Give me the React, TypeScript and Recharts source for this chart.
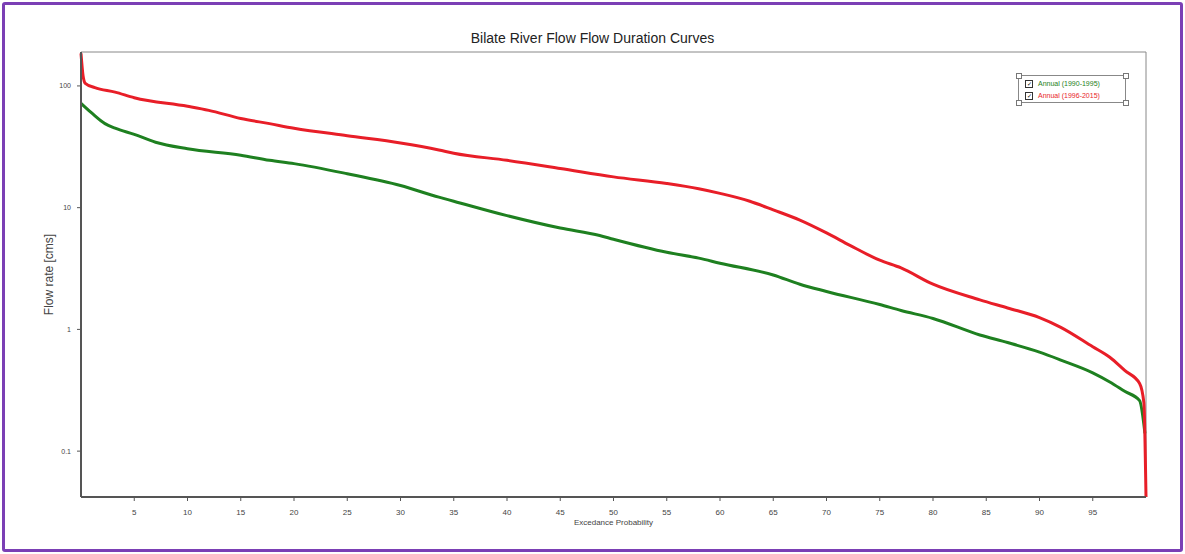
import React from "react";
import { LineChart, Line, XAxis, YAxis, ReferenceArea } from "recharts";

const TITLE = "Bilate River Flow Flow Duration Curves";
const X_LABEL = "Excedance Probability";
const Y_LABEL = "Flow rate [cms]";

const xTicks = [5, 10, 15, 20, 25, 30, 35, 40, 45, 50, 55, 60, 65, 70, 75, 80, 85, 90, 95];
const xMinorTicks = Array.from({ length: 99 }, (_, i) => i + 1);
const yTicks = [0.1, 1, 10, 100];

const seriesNames = ["Annual (1990-1995)", "Annual (1996-2015)"];

const greenProb = [0, 1, 2.25, 3.2, 5, 7, 10, 15, 17.7, 20, 25, 30, 33.6, 35, 40, 45, 48.7, 50, 55, 58, 60, 65, 67.5, 70, 75, 77, 80, 84.4, 87, 90, 92, 95, 96.6, 98, 99.4, 99.9];
const greenFlow = [72, 60, 49, 45, 40, 34.5, 30.5, 27, 24.5, 23, 19, 15.2, 12.2, 11.3, 8.6, 6.8, 5.9, 5.5, 4.3, 3.85, 3.5, 2.8, 2.35, 2.05, 1.6, 1.43, 1.23, 0.9, 0.78, 0.65, 0.56, 0.44, 0.37, 0.31, 0.26, 0.14];

const redProb = [0, 0.2, 0.4, 1.3, 3.2, 5, 10, 12, 15, 17.7, 20, 25, 30, 33.6, 35, 40, 45, 50, 55, 58, 60, 62.8, 65, 67.5, 70, 72.2, 75, 77, 80, 84.4, 87, 90, 92, 95, 96.6, 98, 99.4, 99.8, 100];
const redFlow = [185, 120, 105, 97, 89, 80, 68, 63, 54, 49, 45, 39, 34, 29.8, 28, 24.5, 21, 17.9, 15.8, 14.3, 13.1, 11.3, 9.6, 7.9, 6.2, 4.9, 3.7, 3.2, 2.35, 1.75, 1.5, 1.25, 1.04, 0.72, 0.59, 0.46, 0.36, 0.25, 0.042];

const greenData = greenProb.map((p, i) => ({ p, q: greenFlow[i] }));
const redData = redProb.map((p, i) => ({ p, q: redFlow[i] }));

const GREEN = "#1e8020";
const RED = "#e81e28";
const FONT = "Arial, 'Liberation Sans', sans-serif";

const LegendBox = () => (
  <div
    style={{
      position: "absolute",
      left: 1018,
      top: 75,
      width: 108,
      height: 28,
      border: "1px solid #888",
      background: "#fff",
      fontFamily: FONT,
      fontSize: 7,
      lineHeight: "12px",
      padding: "2px 0 0 6px",
      boxSizing: "border-box",
    }}
  >
    {[0, 1].map((i) => (
      <div key={i} style={{ display: "flex", alignItems: "center", color: i === 0 ? GREEN : RED }}>
        <span
          style={{
            display: "inline-block",
            width: 6,
            height: 6,
            border: "1px solid #333",
            marginRight: 5,
            fontSize: 6,
            lineHeight: "6px",
            color: "#000",
            textAlign: "center",
          }}
        >
          ✓
        </span>
        {seriesNames[i]}
      </div>
    ))}
    {[
      [-3, -3],
      [104, -3],
      [-3, 24],
      [104, 24],
    ].map(([l, t], k) => (
      <span
        key={k}
        style={{
          position: "absolute",
          left: l,
          top: t,
          width: 4,
          height: 4,
          border: "1px solid #777",
          background: "#fff",
        }}
      />
    ))}
  </div>
);

export default function App() {
  return (
    <div style={{ position: "absolute", left: 0, top: 0, width: 1185, height: 554, background: "#fff" }}>
      <div
        style={{
          position: "absolute",
          left: 2,
          top: 2,
          width: 1175,
          height: 544,
          border: "3px solid #7b3fb5",
          borderRadius: 3,
        }}
      />
      <div
        style={{
          position: "absolute",
          left: 0,
          top: 30,
          width: 1185,
          textAlign: "center",
          fontFamily: FONT,
          fontSize: 14,
          color: "#222",
        }}
      >
        {TITLE}
      </div>
      <div style={{ position: "absolute", left: 0, top: 0 }}>
        <LineChart width={1185} height={554} margin={{ top: 52, right: 39, bottom: 27, left: 41 }}>
          <XAxis
            xAxisId="minor"
            dataKey="p"
            type="number"
            domain={[0, 100]}
            ticks={xMinorTicks}
            tick={false}
            tickSize={2}
            axisLine={false}
            tickLine={{ stroke: "#777" }}
            height={0}
            allowDuplicatedCategory={false}
          />
          <XAxis
            dataKey="p"
            type="number"
            domain={[0, 100]}
            ticks={xTicks}
            tickSize={4}
            tickMargin={8}
            height={30}
            axisLine={{ stroke: "#555", strokeWidth: 2 }}
            tickLine={{ stroke: "#555" }}
            tick={{ fontSize: 8, fill: "#444", fontFamily: FONT }}
            label={{
              value: X_LABEL,
              position: "insideBottom",
              offset: 2,
              fontSize: 8,
              fill: "#444",
              fontFamily: FONT,
            }}
            allowDuplicatedCategory={false}
          />
          <YAxis
            dataKey="q"
            scale="log"
            domain={[0.042, 190]}
            allowDataOverflow
            ticks={yTicks}
            width={40}
            tickSize={4}
            tickMargin={6}
            axisLine={{ stroke: "#555", strokeWidth: 2 }}
            tickLine={{ stroke: "#555" }}
            tick={{ fontSize: 7, fill: "#444", fontFamily: FONT }}
            tickFormatter={(v: number) => String(v)}
            label={{
              value: Y_LABEL,
              angle: -90,
              position: "insideLeft",
              offset: 0,
              dx: 8,
              style: { textAnchor: "middle" },
              fontSize: 12,
              fill: "#444",
              fontFamily: FONT,
            }}
          />
          <ReferenceArea
            x1={0}
            x2={100}
            y1={0.042}
            y2={190}
            fill="none"
            stroke="#888"
            strokeWidth={1}
            ifOverflow="extendDomain"
          />
          <Line
            data={greenData}
            dataKey="q"
            type="monotone"
            stroke={GREEN}
            strokeWidth={3}
            dot={false}
            isAnimationActive={false}
            name={seriesNames[0]}
          />
          <Line
            data={redData}
            dataKey="q"
            type="monotone"
            stroke={RED}
            strokeWidth={3}
            dot={false}
            isAnimationActive={false}
            name={seriesNames[1]}
          />
        </LineChart>
      </div>
      <LegendBox />
    </div>
  );
}
